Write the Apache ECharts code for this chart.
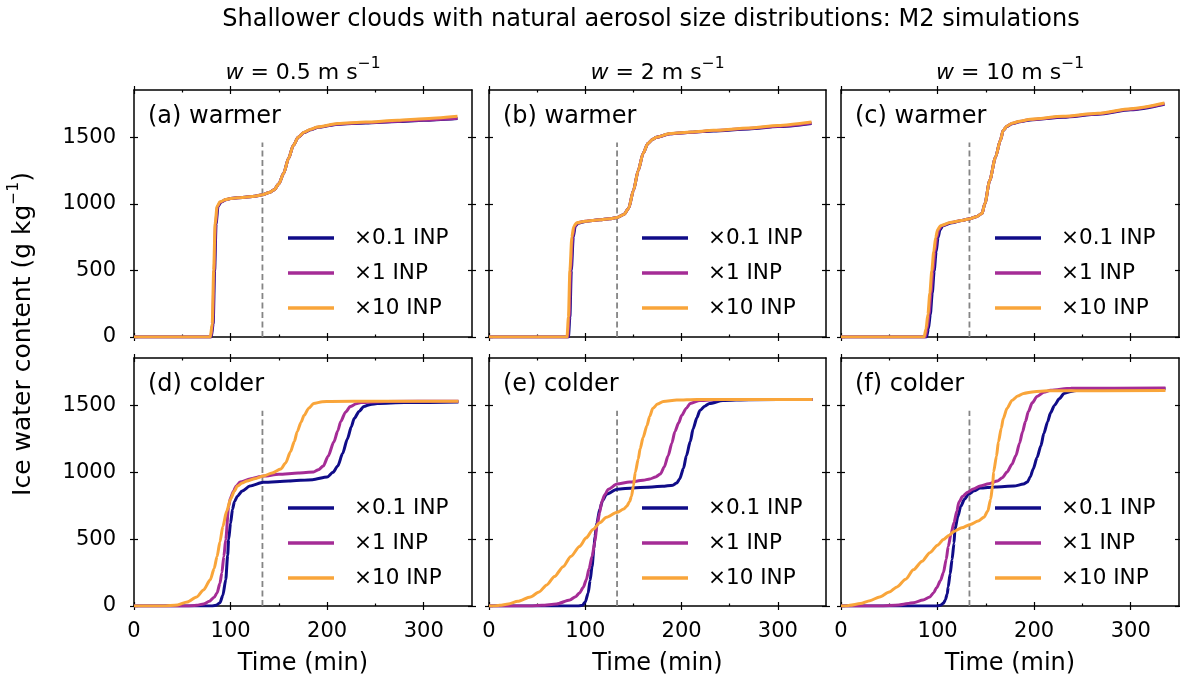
<!DOCTYPE html>
<html>
<head>
<meta charset="utf-8">
<script src="https://cdn.jsdelivr.net/npm/echarts@6/dist/echarts.min.js"></script>
<style>
html,body{margin:0;padding:0;background:#fff;}
#chart{width:1180px;height:684px;}
</style>
</head>
<body>
<div id="chart"></div>
<script>
// ---------------- DATA ----------------
const mainTitle = 'Shallower clouds with natural aerosol size distributions: M2 simulations';
const columnTitles = ['0.5', '2', '10'];
const panelLabels = ['(a) warmer', '(b) warmer', '(c) warmer', '(d) colder', '(e) colder', '(f) colder'];
const seriesNames = ['×0.1 INP', '×1 INP', '×10 INP'];
const timeTicks = [0, 100, 200, 300];
const timeMinorTicks = [50, 150, 250];
const iwcTicks = [0, 500, 1000, 1500];
const dashTime = 133;
const dashTop = 1460;

// Panel (a) warmer, w = 0.5
const a_x01 = [[0,0],[80,0],[82,100],[83.5,500],[85,850],[87,980],[90,1012],[95,1030],[100,1040],[115,1050],[125,1057],[133,1068],[140,1085],[145,1105],[150,1150],[155,1230],[160,1340],[165,1440],[170,1500],[176,1535],[183,1557],[190,1574],[211,1598],[240,1608],[273,1618],[300,1628],[335,1641]];
const a_x1  = [[0,0],[79.5,0],[81.5,100],[83,500],[84.5,850],[86.5,980],[89.5,1013],[95,1031],[100,1040],[115,1050],[125,1057],[133,1068],[140,1085],[145,1105],[150,1150],[155,1230],[160,1340],[165,1440],[170,1500],[176,1536],[183,1558],[190,1575],[211,1600],[240,1610],[273,1620],[300,1630],[335,1643]];
const a_x10 = [[0,0],[79,0],[81,100],[82.5,500],[84,850],[86,980],[89,1015],[95,1032],[100,1040],[115,1050],[125,1057],[133,1068],[140,1085],[145,1105],[150,1150],[155,1230],[160,1340],[165,1440],[170,1500],[176,1537],[183,1560],[190,1577],[211,1603],[240,1614],[273,1628],[300,1640],[335,1658]];

// Panel (b) warmer, w = 2
const b_x01 = [[0,0],[82.5,0],[84,150],[85.5,500],[87.5,750],[89.5,830],[92.5,856],[100,868],[115,880],[125,888],[133,897],[140,920],[145,965],[150,1100],[155,1250],[160,1378],[165,1453],[170,1485],[174,1500],[188,1526],[210,1537],[233,1548],[270,1563],[300,1580],[335,1604]];
const b_x1  = [[0,0],[81.8,0],[83.3,150],[84.8,500],[86.8,750],[88.8,830],[91.8,857],[100,870],[115,880],[125,888],[133,897],[140,920],[145,965],[150,1100],[155,1250],[160,1378],[165,1453],[170,1485],[174,1500],[188,1527],[210,1538],[233,1550],[270,1566],[300,1583],[335,1607]];
const b_x10 = [[0,0],[81,0],[82.5,150],[84,500],[86,750],[88,830],[91,858],[100,870],[115,880],[125,888],[133,897],[140,920],[145,965],[150,1100],[155,1250],[160,1378],[165,1453],[170,1485],[174,1500],[188,1528],[210,1540],[233,1552],[270,1570],[300,1588],[335,1614]];

// Panel (c) warmer, w = 10
const c_x01 = [[0,0],[88.5,0],[90.5,60],[92.5,170],[94.5,330],[96.5,497],[98.5,640],[100.5,746],[102.5,805],[105.5,836],[115,858],[125,875],[134,889],[140,903],[146,927],[149,1002],[154,1176],[160,1350],[165,1477],[168,1552],[172,1583],[177,1602],[185,1616],[196,1630],[230,1651],[266,1673],[300,1706],[335,1748]];
const c_x1  = [[0,0],[87.2,0],[89.2,60],[91.2,170],[93.2,330],[95.2,497],[97.2,640],[99.2,746],[101.2,805],[104.2,836],[114,859],[125,875],[134,889],[140,903],[146,927],[149,1002],[154,1176],[160,1350],[165,1477],[168,1552],[172,1584],[177,1604],[185,1618],[196,1633],[230,1654],[266,1677],[300,1711],[335,1752]];
const c_x10 = [[0,0],[86,0],[88,60],[90,170],[92,330],[94,497],[96,640],[98,746],[100,805],[103,836],[113,860],[125,875],[134,889],[140,903],[146,927],[149,1002],[154,1176],[160,1350],[165,1477],[168,1552],[172,1585],[177,1605],[185,1620],[196,1635],[230,1657],[266,1680],[300,1715],[335,1757]];

// Panel (d) colder, w = 0.5
const d_x01 = [[0,0],[80,0],[85,5],[89,25],[92,80],[95,196],[97,380],[98,497],[100,620],[102,723],[104,780],[107,821],[112,860],[120,897],[134,925],[160,935],[185,945],[200,965],[206,1000],[211,1047],[216,1140],[221,1251],[225,1340],[228,1402],[233,1455],[238,1492],[245,1508],[252,1515],[280,1522],[336,1525]];
const d_x1  = [[0,0],[55,0],[65,5],[72,15],[78,35],[83,65],[86,98],[89,170],[91,249],[93,370],[95,497],[98,746],[100,810],[103,859],[106,900],[110,927],[120,950],[134,972],[150,985],[170,995],[186,1002],[191,1020],[196,1047],[201,1120],[207,1228],[211,1310],[214,1379],[219,1450],[224,1492],[230,1512],[235,1522],[260,1530],[336,1532]];
const d_x10 = [[0,0],[30,0],[45,8],[55,30],[65,68],[72,120],[79,196],[83,280],[86,370],[89,480],[92,595],[96,710],[100,800],[104,860],[107,897],[112,920],[117,935],[125,952],[134,972],[143,995],[152,1025],[157,1070],[162,1153],[166,1230],[169,1304],[173,1375],[176,1424],[181,1480],[186,1515],[195,1528],[204,1530],[250,1532],[336,1532]];

// Panel (e) colder, w = 2
const e_x01 = [[0,0],[92,0],[97,5],[100,30],[103,98],[105,190],[107,294],[109,430],[110,520],[112,620],[115,723],[118,790],[122,836],[133,874],[150,882],[164,889],[180,895],[191,904],[195,920],[198,950],[202,1030],[205,1123],[209,1230],[212,1326],[216,1410],[219,1462],[224,1495],[229,1515],[243,1537],[270,1543],[336,1545]];
const e_x1  = [[0,0],[40,0],[55,5],[70,15],[84,45],[90,70],[94,98],[98,140],[101,196],[104,280],[107,370],[110,480],[112,595],[115,700],[117,776],[120,830],[124,874],[133,912],[146,927],[160,940],[167,950],[173,965],[178,987],[182,1040],[186,1123],[190,1220],[193,1304],[197,1370],[200,1424],[205,1480],[209,1515],[219,1537],[240,1545],[336,1545]];
const e_x10 = [[0,0],[5,0],[11,5],[20,15],[30,35],[43,68],[52,105],[60,158],[68,220],[77,294],[85,370],[94,445],[101,510],[108,573],[115,622],[122,663],[133,701],[140,725],[143,746],[146,780],[148,821],[150,900],[152,1002],[155,1100],[157,1176],[160,1260],[164,1349],[167,1420],[170,1477],[175,1510],[181,1530],[195,1540],[216,1545],[336,1545]];

// Panel (f) colder, w = 10
const f_x01 = [[0,0],[98,0],[103,5],[106,20],[108,45],[110,90],[111,143],[113,240],[115,347],[117,470],[118,573],[121,670],[124,746],[128,800],[132,836],[138,862],[144,882],[160,890],[179,897],[189,912],[193,927],[196,965],[199,1025],[203,1110],[207,1198],[210,1290],[214,1379],[217,1445],[221,1500],[226,1550],[231,1590],[238,1605],[245,1613],[270,1620],[336,1625]];
const f_x1  = [[0,0],[40,0],[60,8],[75,25],[85,45],[92,68],[96,100],[99,136],[103,190],[106,249],[109,350],[111,445],[114,540],[117,625],[120,710],[122,776],[126,820],[131,851],[137,875],[144,897],[153,915],[162,935],[167,960],[172,1002],[177,1060],[181,1123],[185,1220],[188,1304],[191,1380],[194,1454],[198,1520],[203,1567],[210,1598],[217,1613],[238,1628],[336,1630]];
const f_x10 = [[0,0],[5,0],[9,5],[20,18],[30,40],[40,68],[50,105],[58,143],[67,200],[75,271],[84,335],[92,399],[100,455],[106,497],[112,530],[117,558],[125,585],[134,610],[142,635],[148,663],[152,710],[155,799],[157,900],[158,1002],[161,1120],[163,1228],[166,1330],[168,1402],[172,1480],[177,1537],[183,1570],[189,1590],[200,1603],[214,1610],[336,1612]];

const panelData = [
  [a_x01, a_x1, a_x10],
  [b_x01, b_x1, b_x10],
  [c_x01, c_x1, c_x10],
  [d_x01, d_x1, d_x10],
  [e_x01, e_x1, e_x10],
  [f_x01, f_x1, f_x10]
];

// ---------------- STYLE / LAYOUT ----------------
const FONT = 'DejaVu Sans';
const TICK_FS = 21, LEG_FS = 21.5, LABEL_FS = 24;
const colors = ['#100c88', '#a52c96', '#f9a53a'];
const cols = [{left:134,width:338},{left:489,width:337},{left:841,width:338}];
const rows = [{top:90,height:247},{top:358,height:248}];
const legendPos = [{l:288,t:227},{l:642,t:227},{l:995,t:227},{l:288,t:497},{l:642,t:497},{l:995,t:497}];
const X_MAX = 350, Y_MAX = 1855;

const grid = [], xAxis = [], yAxis = [], series = [], legend = [], graphic = [];

function tick(values, inside, len) {
  return {show:true, inside:inside, length:len, customValues:values, lineStyle:{color:'#000', width:1.2}};
}
function baseX(gi, pos) {
  return {type:'value', gridIndex:gi, position:pos, min:0, max:X_MAX, interval:100,
    splitLine:{show:false}, axisLine:{show:false, onZero:false}, axisTick:{show:false},
    axisLabel:{show:false}, minorTick:{show:false}};
}
function baseY(gi, pos) {
  return {type:'value', gridIndex:gi, position:pos, min:0, max:Y_MAX,
    splitLine:{show:false}, axisLine:{show:false, onZero:false}, axisTick:{show:false},
    axisLabel:{show:false}, minorTick:{show:false}};
}

for (let i = 0; i < 6; i++) {
  const r = Math.floor(i / 3), c = i % 3;
  grid.push({left:cols[c].left, width:cols[c].width, top:rows[r].top, height:rows[r].height, containLabel:false});
  const xi = xAxis.length, yi = yAxis.length;
  const xb = baseX(i, 'bottom');
  xb.axisLine = {show:true, onZero:false, lineStyle:{color:'#000', width:1.5}};
  xb.axisTick = tick(timeTicks, false, 4);
  if (r === 1) {
    xb.axisLabel = {show:true, showMaxLabel:false, fontSize:TICK_FS, fontFamily:FONT, color:'#000', margin:15,
      formatter:function(v){return v > 300 ? '' : String(v);}};
    xb.name = 'Time (min)';
    xb.nameLocation = 'middle';
    xb.nameGap = 46;
    xb.nameMoveOverlap = false;
    xb.nameTextStyle = {fontSize:LABEL_FS, fontFamily:FONT, color:'#000'};
  }
  xAxis.push(xb);
  const xb2 = baseX(i, 'bottom'); xb2.axisTick = tick(timeTicks, true, 4); xAxis.push(xb2);
  const xb3 = baseX(i, 'bottom'); xb3.axisTick = tick(timeMinorTicks, true, 2.5); xAxis.push(xb3);
  const xt = baseX(i, 'top');
  xt.axisLine = {show:true, onZero:false, lineStyle:{color:'#000', width:1.5}};
  xt.axisTick = tick(timeTicks, false, 4);
  xAxis.push(xt);
  const xt2 = baseX(i, 'top'); xt2.axisTick = tick(timeTicks, true, 4); xAxis.push(xt2);
  const xt3 = baseX(i, 'top'); xt3.axisTick = tick(timeMinorTicks, true, 2.5); xAxis.push(xt3);

  const yl = baseY(i, 'left');
  yl.axisLine = {show:true, onZero:false, lineStyle:{color:'#000', width:1.5}};
  yl.axisTick = tick(iwcTicks, false, 4);
  if (c === 0) {
    yl.axisLabel = {show:true, customValues:iwcTicks, fontSize:TICK_FS, fontFamily:FONT, color:'#000', margin:18,
      formatter:function(v){return String(v);}};
  }
  yAxis.push(yl);
  const yl2 = baseY(i, 'left'); yl2.axisTick = tick(iwcTicks, true, 4); yAxis.push(yl2);
  const yr = baseY(i, 'right');
  yr.axisLine = {show:true, onZero:false, lineStyle:{color:'#000', width:1.5}};
  yr.axisTick = tick(iwcTicks, false, 4);
  yAxis.push(yr);
  const yr2 = baseY(i, 'right'); yr2.axisTick = tick(iwcTicks, true, 4); yAxis.push(yr2);

  series.push({type:'line', name:'ref'+i, xAxisIndex:xi, yAxisIndex:yi, silent:true,
    data:[[dashTime,0],[dashTime,dashTop]], showSymbol:false, symbol:'none',
    lineStyle:{color:'#858585', width:1.8, type:[6,3.5]}, z:1});
  for (let s = 0; s < 3; s++) {
    series.push({type:'line', name:seriesNames[s], xAxisIndex:xi, yAxisIndex:yi,
      data:panelData[i][s], showSymbol:false, symbol:'none', smooth:0.25, smoothMonotone:'x',
      color:colors[s], lineStyle:{color:colors[s], width:3}, z:2+s});
  }
  legend.push({data:seriesNames, orient:'vertical', left:legendPos[i].l, top:legendPos[i].t, padding:0,
    icon:'rect', itemWidth:46, itemHeight:3.5, itemGap:13, selectedMode:false,
    textStyle:{fontSize:LEG_FS, fontFamily:FONT, color:'#000', lineHeight:20, padding:[0,0,0,15]}});

  graphic.push({type:'text', left:cols[c].left + 14, top:rows[r].top + 15,
    style:{text:panelLabels[i], font:LABEL_FS + 'px "DejaVu Sans"', fill:'#000'}});
}

const supRich = {
  it:{fontStyle:'italic', fontSize:22, fontFamily:FONT, lineHeight:28, verticalAlign:'bottom'},
  n:{fontSize:22, fontFamily:FONT, lineHeight:28, verticalAlign:'bottom'},
  big:{fontSize:25, fontFamily:FONT, lineHeight:30, verticalAlign:'bottom'},
  sup:{fontSize:15.5, fontFamily:FONT, lineHeight:15, verticalAlign:'top'}
};
for (let c = 0; c < 3; c++) {
  graphic.push({type:'text', x:cols[c].left + cols[c].width/2, y:70,
    style:{text:'{it|w}{n| = ' + columnTitles[c] + ' m s}{sup|−1}', align:'center', verticalAlign:'middle',
      fill:'#000', rich:supRich}});
}
graphic.push({type:'text', x:651, y:20,
  style:{text:mainTitle, align:'center', verticalAlign:'middle', fontSize:LABEL_FS, fontFamily:FONT, fill:'#000'}});
graphic.push({type:'text', x:21, y:334, rotation:Math.PI/2,
  style:{text:'{big|Ice water content (g kg}{sup|−1}{big|)}', align:'center', verticalAlign:'middle', fill:'#000', rich:supRich}});

const chart = echarts.init(document.getElementById('chart'), null, {renderer:'canvas'});
chart.setOption({
  animation:false,
  backgroundColor:'#fff',
  grid:grid, xAxis:xAxis, yAxis:yAxis, series:series, legend:legend, graphic:graphic
});
</script>
</body>
</html>
